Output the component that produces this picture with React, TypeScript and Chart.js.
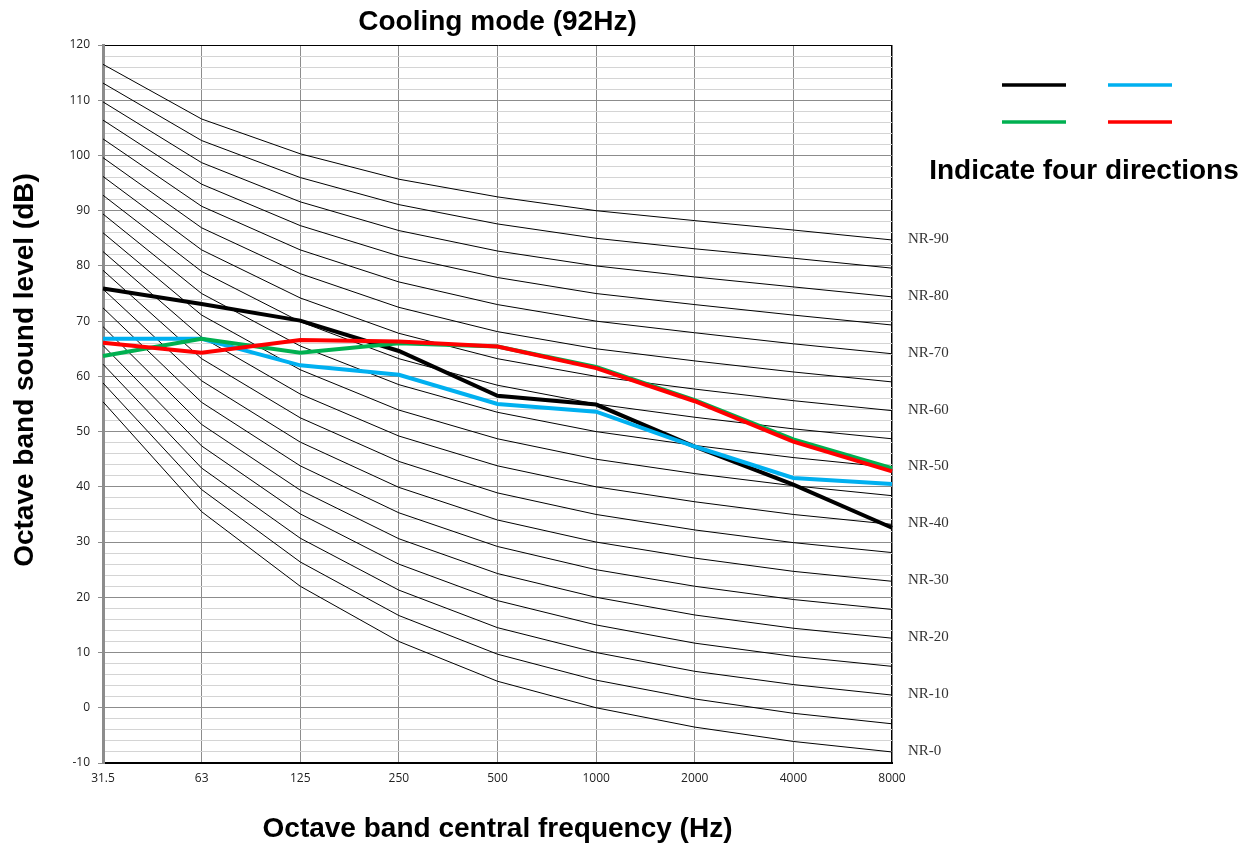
import React, { useEffect, useRef } from 'react';
import { Chart, registerables } from 'chart.js';

Chart.register(...registerables);

// ---- Data ----
const frequencies = ['31.5', '63', '125', '250', '500', '1000', '2000', '4000', '8000'];

const nr0 = [55.4, 35.5, 22.0, 12.0, 4.8, 0, -3.5, -6.1, -8.0];
const nr5 = [58.8, 39.5, 26.4, 16.7, 9.7, 5, 1.6, -1.0, -2.9];
const nr10 = [62.2, 43.4, 30.7, 21.3, 14.5, 10, 6.6, 4.2, 2.3];
const nr15 = [65.6, 47.4, 35.1, 26.0, 19.4, 15, 11.7, 9.3, 7.5];
const nr20 = [69.0, 51.3, 39.4, 30.6, 24.3, 20, 16.8, 14.4, 12.6];
const nr25 = [72.4, 55.3, 43.8, 35.3, 29.2, 25, 22.0, 19.6, 17.8];
const nr30 = [75.8, 59.2, 48.1, 39.9, 34.0, 30, 27.1, 24.7, 22.9];
const nr35 = [79.2, 63.2, 52.5, 44.6, 38.9, 35, 32.2, 29.9, 28.1];
const nr40 = [82.6, 67.1, 56.8, 49.2, 43.8, 40, 37.3, 35.0, 33.2];
const nr45 = [86.0, 71.1, 61.2, 53.9, 48.7, 45, 42.4, 40.2, 38.4];
const nr50 = [89.4, 75.0, 65.5, 58.5, 53.5, 50, 47.5, 45.3, 43.5];
const nr55 = [92.8, 79.0, 69.9, 63.2, 58.4, 55, 52.6, 50.5, 48.7];
const nr60 = [96.2, 82.9, 74.2, 67.8, 63.2, 60, 57.7, 55.6, 53.8];
const nr65 = [99.6, 86.9, 78.6, 72.5, 68.1, 65, 62.8, 60.8, 59.0];
const nr70 = [103.0, 90.8, 82.9, 77.1, 73.0, 70, 67.9, 65.9, 64.1];
const nr75 = [106.4, 94.8, 87.3, 81.8, 77.9, 75, 73.0, 71.1, 69.3];
const nr80 = [109.7, 98.7, 91.6, 86.4, 82.7, 80, 78.0, 76.2, 74.4];
const nr85 = [113.1, 102.7, 96.0, 91.1, 87.6, 85, 83.1, 81.4, 79.6];
const nr90 = [116.5, 106.6, 100.3, 95.7, 92.5, 90, 88.2, 86.5, 84.7];

const nrLevels = [0, 5, 10, 15, 20, 25, 30, 35, 40, 45, 50, 55, 60, 65, 70, 75, 80, 85, 90];
const nrCurves = [nr0, nr5, nr10, nr15, nr20, nr25, nr30, nr35, nr40, nr45, nr50, nr55, nr60, nr65, nr70, nr75, nr80, nr85, nr90];

const directionBlack = [75.9, 73.1, 70.1, 64.6, 56.5, 54.9, 47.3, 40.4, 32.6];
const directionBlue = [66.8, 66.8, 62.0, 60.3, 55.0, 53.6, 47.3, 41.6, 40.5];
const directionGreen = [63.7, 66.8, 64.3, 66.0, 65.4, 61.7, 55.7, 48.6, 43.4];
const directionRed = [66.1, 64.3, 66.6, 66.3, 65.4, 61.5, 55.5, 48.2, 42.8];

const yMin = -10;
const yMax = 120;
const yMinorStep = 2;
const yMajorStep = 10;

const titleText = 'Cooling mode (92Hz)';
const xTitleText = 'Octave band central frequency (Hz)';
const yTitleText = 'Octave band sound level (dB)';
const legendNote = 'Indicate four directions';

const BOLD_FONT = '"Liberation Sans", Arial, sans-serif';

const decorPlugin = {
  id: 'decor',
  afterDraw(chart: any) {
    const { ctx, chartArea, scales } = chart;
    const y = scales.y;
    ctx.save();
    // Title
    ctx.fillStyle = '#000';
    ctx.font = `bold 28px ${BOLD_FONT}`;
    ctx.textAlign = 'center';
    ctx.textBaseline = 'middle';
    ctx.fillText(titleText, (chartArea.left + chartArea.right) / 2, 22);

    // Y axis title
    ctx.save();
    ctx.translate(25, 370);
    ctx.rotate(-Math.PI / 2);
    ctx.fillText(yTitleText, 0, 0);
    ctx.restore();

    // NR labels
    ctx.font = '15px "Liberation Serif", "DejaVu Serif", serif';
    ctx.textAlign = 'left';
    ctx.fillStyle = '#333';
    nrLevels.forEach((lvl, i) => {
      if (lvl % 10 !== 0) return;
      const curve = nrCurves[i];
      const py = y.getPixelForValue(curve[curve.length - 1]);
      ctx.fillText('NR-' + lvl, chartArea.right + 16, py - 1);
    });

    // Legend samples
    const samples = [
      { c: '#000000', x: 1002, y: 85 },
      { c: '#00B0F0', x: 1108, y: 85 },
      { c: '#00B050', x: 1002, y: 122 },
      { c: '#FF0000', x: 1108, y: 122 },
    ];
    ctx.lineWidth = 3.5;
    samples.forEach((s) => {
      ctx.strokeStyle = s.c;
      ctx.beginPath();
      ctx.moveTo(s.x, s.y);
      ctx.lineTo(s.x + 64, s.y);
      ctx.stroke();
    });
    ctx.fillStyle = '#000';
    ctx.font = `bold 28px ${BOLD_FONT}`;
    ctx.textAlign = 'center';
    ctx.fillText(legendNote, 1084, 171);
    ctx.restore();
  },
};

export default function App() {
  const canvasRef = useRef<HTMLCanvasElement | null>(null);

  useEffect(() => {
    const canvas = canvasRef.current;
    if (!canvas) return;

    const nrDatasets = nrCurves.map((curve, i) => ({
      label: 'NR-' + nrLevels[i],
      data: curve,
      borderColor: '#000000',
      borderWidth: 1,
      pointRadius: 0,
      tension: 0,
      fill: false,
      order: 10,
    }));

    const mk = (label: string, data: number[], color: string, order: number) => ({
      label,
      data,
      borderColor: color,
      backgroundColor: color,
      borderWidth: 4,
      pointRadius: 0,
      tension: 0,
      fill: false,
      order,
    });

    const chart = new Chart(canvas, {
      type: 'line',
      data: {
        labels: frequencies,
        datasets: [
          mk('Direction 4', directionRed, '#FF0000', 0),
          mk('Direction 3', directionGreen, '#00B050', 1),
          mk('Direction 2', directionBlue, '#00B0F0', 2),
          mk('Direction 1', directionBlack, '#000000', 3),
          ...nrDatasets,
        ],
      },
      options: {
        animation: false,
        responsive: true,
        maintainAspectRatio: false,
        layout: { padding: { top: 45, right: 365, left: 0, bottom: 0 } },
        plugins: {
          legend: { display: false },
          tooltip: { enabled: false },
          title: { display: false },
        },
        scales: {
          x: {
            type: 'category',
            offset: false,
            afterFit: (scale: any) => {
              scale.height = 85;
            },
            grid: {
              drawTicks: false,
              color: (ctx: any) => (ctx.index === frequencies.length - 1 ? '#000000' : '#8c8c8c'),
              lineWidth: (ctx: any) => (ctx.index === frequencies.length - 1 ? 1.5 : 1),
            },
            border: { color: '#000000', width: 2 },
            ticks: {
              color: '#222',
              font: { family: '"Open Sans", sans-serif', size: 12 },
              padding: 8,
              maxRotation: 0,
              autoSkip: false,
            },
            title: {
              display: true,
              text: xTitleText,
              color: '#000',
              font: { family: BOLD_FONT, size: 28, weight: 'bold' },
              padding: { top: 0, bottom: 2 },
            },
          },
          y: {
            type: 'linear',
            min: yMin,
            max: yMax,
            afterFit: (scale: any) => {
              scale.width = 103;
            },
            grid: {
              tickLength: 5,
              color: (ctx: any) => {
                const v = ctx.tick ? ctx.tick.value : 0;
                if (v === yMax) return '#000000';
                return v % yMajorStep === 0 ? '#8c8c8c' : '#d4d4d4';
              },
              tickColor: (ctx: any) => {
                const v = ctx.tick ? ctx.tick.value : 0;
                return v % yMajorStep === 0 ? '#8c8c8c' : 'rgba(0,0,0,0)';
              },
            },
            border: { color: '#8c8c8c', width: 3 },
            ticks: {
              stepSize: yMinorStep,
              autoSkip: false,
              color: '#222',
              font: { family: '"Open Sans", sans-serif', size: 12 },
              padding: 8,
              callback: (v: any) => (Number(v) % yMajorStep === 0 ? String(v) : ''),
            },
          },
        },
      },
      plugins: [decorPlugin],
    } as any);

    return () => {
      chart.destroy();
    };
  }, []);

  return (
    <div style={{ position: 'fixed', left: 0, top: 0, width: '100vw', height: '100vh', background: '#fff' }}>
      <canvas ref={canvasRef} />
    </div>
  );
}
